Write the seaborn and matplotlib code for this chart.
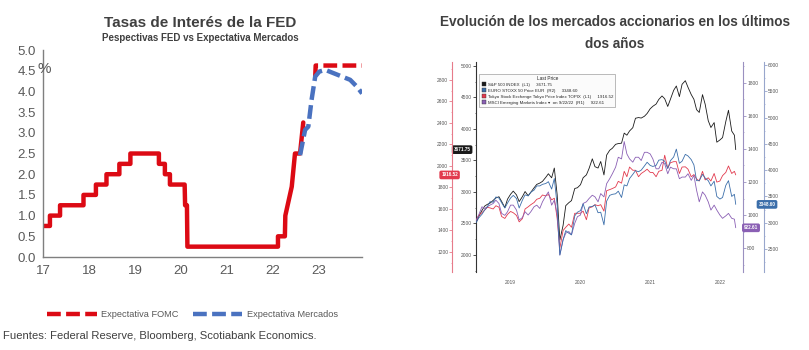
import pandas as pd
import matplotlib.pyplot as plt
import seaborn as sns
from matplotlib.lines import Line2D
from matplotlib.patches import Patch
from matplotlib.ticker import AutoMinorLocator, MultipleLocator

sns.set_style('white')
plt.rcParams['font.family'] = ['Liberation Sans', 'DejaVu Sans']

# ---------------- left panel: Fed funds rate (x = year 20xx) ----------------
fed_x = [17.0, 17.15, 17.15, 17.37, 17.37, 17.88, 17.88, 18.15, 18.15, 18.38, 18.38,
         18.66, 18.66, 18.9, 18.9, 19.52, 19.52, 19.65, 19.65, 19.76, 19.76, 20.08,
         20.09, 20.13, 20.14, 22.11, 22.11, 22.26, 22.27, 22.41, 22.48, 22.59, 22.66]
fed_y = [0.75, 0.75, 1.0, 1.0, 1.25, 1.25, 1.5, 1.5, 1.75, 1.75, 2.0,
         2.0, 2.25, 2.25, 2.5, 2.5, 2.25, 2.25, 2.0, 2.0, 1.75, 1.75,
         1.25, 1.25, 0.25, 0.25, 0.5, 0.5, 1.0, 1.7, 2.5, 2.5, 3.25]
fomc_x = [22.92, 22.93, 23.94]
fomc_y = [4.35, 4.625, 4.625]
mkt_x = [22.59, 22.70, 22.77, 22.84, 22.92, 23.01, 23.14, 23.32, 23.50, 23.68, 23.83, 23.94]
mkt_y = [2.46, 3.07, 3.15, 3.79, 4.36, 4.48, 4.52, 4.44, 4.36, 4.28, 4.11, 3.95]

# ---------------- right panel: equity indices, semi-monthly ----------------
dates = list(pd.date_range('2019-01-01', '2022-09-15', freq='SMS')) + [pd.Timestamp('2022-09-22')]
spx = [2507, 2610, 2706, 2775, 2803, 2822, 2867, 2905, 2924, 2850, 2752, 2886,
       2964, 3014, 2953, 2847, 2926, 3007, 2940, 2995, 3066, 3120, 3141, 3168,
       3231, 3289, 3225, 3380, 2954, 2237, 2470, 2783, 2830, 2863, 3055, 3067,
       3115, 3226, 3271, 3373, 3526, 3401, 3380, 3484, 3270, 3585, 3662, 3694,
       3756, 3768, 3774, 3934, 3901, 3968, 4020, 4170, 4181, 4173, 4202, 4246,
       4320, 4360, 4395, 4468, 4524, 4480, 4357, 4471, 4613, 4682, 4513, 4709,
       4766, 4662, 4546, 4471, 4306, 4262, 4545, 4392, 4132, 4023, 4101, 3790,
       3825, 3863, 4118, 4297, 3967, 3901, 3672]
sx5e = [3001, 3090, 3160, 3240, 3300, 3400, 3390, 3490, 3470, 3380, 3280, 3375,
        3470, 3520, 3460, 3280, 3430, 3530, 3510, 3580, 3620, 3700, 3700, 3730,
        3745, 3780, 3640, 3840, 3330, 2385, 2680, 2850, 2800, 2770, 3130, 3200,
        3230, 3360, 3170, 3300, 3310, 3340, 3190, 3200, 2960, 3410, 3520, 3540,
        3550, 3600, 3480, 3720, 3700, 3840, 3920, 3990, 3970, 4000, 4080, 4150,
        4090, 4070, 4090, 4190, 4200, 4170, 4030, 4180, 4250, 4400, 4130, 4170,
        4300, 4270, 4200, 4100, 3800, 3800, 3920, 3850, 3800, 3700, 3790, 3500,
        3450, 3480, 3710, 3800, 3500, 3540, 3349]
topix = [1494, 1540, 1565, 1590, 1615, 1610, 1600, 1630, 1617, 1530, 1512, 1550,
         1577, 1565, 1540, 1480, 1510, 1600, 1620, 1640, 1660, 1690, 1700, 1730,
         1721, 1735, 1685, 1700, 1510, 1236, 1400, 1430, 1460, 1430, 1560, 1560,
         1560, 1580, 1500, 1610, 1620, 1640, 1630, 1640, 1580, 1770, 1780, 1790,
         1805, 1857, 1840, 1950, 1900, 1990, 1960, 1960, 1900, 1930, 1950, 1970,
         1940, 1940, 1900, 1950, 1960, 2100, 1980, 2030, 2040, 2040, 1930, 1990,
         1992, 1970, 1900, 1920, 1880, 1860, 1950, 1870, 1890, 1860, 1930, 1850,
         1860, 1910, 1940, 2000, 1930, 1950, 1917]
msci_em = [966, 1000, 1050, 1040, 1050, 1060, 1070, 1090, 1070, 1010, 998, 1020,
           1060, 1060, 1030, 970, 985, 1020, 1000, 1020, 1050, 1060, 1040, 1080,
           1115, 1140, 1060, 1090, 1005, 758, 850, 890, 900, 880, 950, 990,
           1000, 1070, 1080, 1100, 1120, 1110, 1080, 1130, 1110, 1190, 1220, 1250,
           1290, 1350, 1340, 1445, 1370, 1340, 1320, 1350, 1350, 1330, 1380, 1380,
           1370, 1340, 1280, 1280, 1320, 1310, 1250, 1290, 1280, 1280, 1220, 1230,
           1230, 1250, 1210, 1240, 1150, 1080, 1140, 1120, 1080, 1030, 1060, 1030,
           1000, 980, 995, 1010, 980, 975, 923]
legend_names = ['S&P 500 INDEX  (L1)', 'EURO STOXX 50 Price EUR  (R2)',
                'Tokyo Stock Exchange Tokyo Price Index TOPIX  (L1)',
                'MSCI Emerging Markets Index \u25be  on 9/22/22  (R1)']
last_prices = ['3671.75', '3348.60', '1916.52', '922.61']
year_labels = ['2019', '2020', '2021', '2022']

RED = '#dc0a14'
BLUE = '#4a72c0'
GREY = '#595959'
c_spx, c_sx5e, c_topix, c_em = '#1a1a1a', '#3b6eaa', '#e23a4e', '#8a5fb4'

fig = plt.figure(figsize=(8.09, 3.5), dpi=100)

# ---------- left chart ----------
ax = fig.add_axes([0.0532, 0.2657, 0.3944, 0.5914])
dash = (0, (3.1, 1.2))
sns.lineplot(x=fed_x, y=fed_y, ax=ax, color=RED, linewidth=3.2, sort=False, estimator=None)
sns.lineplot(x=fomc_x, y=fomc_y, ax=ax, color=RED, linewidth=3.2, sort=False,
             estimator=None, linestyle=dash)
sns.lineplot(x=mkt_x, y=mkt_y, ax=ax, color=BLUE, linewidth=3.2, sort=False,
             estimator=None, linestyle=dash)
ax.set_xlim(17, 23.94)
ax.set_ylim(0, 5)
ax.set_xticks(range(17, 24))
ax.set_xticklabels([str(v) for v in range(17, 24)])
ax.yaxis.set_major_locator(MultipleLocator(0.5))
ax.yaxis.set_major_formatter(plt.FormatStrFormatter('%.1f'))
for s in ['top', 'right']:
    ax.spines[s].set_visible(False)
for s in ['left', 'bottom']:
    ax.spines[s].set_color('#7f7f7f')
    ax.spines[s].set_linewidth(1.0)
ax.tick_params(axis='both', colors=GREY, labelsize=9.5, length=3, width=1, direction='out',
               labelcolor=GREY)
ax.tick_params(axis='x', pad=3)
ax.tick_params(axis='y', pad=2)
ax.set_xlabel('')
ax.set_ylabel('')
ax.text(17.02, 4.55, '%', fontsize=11, color=GREY, ha='center', va='center')

fig.text(0.247, 0.934, 'Tasas de Interés de la FED', ha='center', va='center',
         fontsize=11, fontweight='bold', color='#404040')
fig.text(0.247, 0.891, 'Pespectivas FED vs Expectativa Mercados', ha='center', va='center',
         fontsize=7, fontweight='bold', color='#404040')

handles = [Line2D([0], [0], color=RED, lw=3.2, linestyle=dash),
           Line2D([0], [0], color=BLUE, lw=3.2, linestyle=dash)]
fig.legend(handles, ['Expectativa FOMC', 'Expectativa Mercados'], loc='center',
           bbox_to_anchor=(0.238, 0.101), ncol=2, frameon=False, fontsize=6.7,
           handlelength=5.3, handletextpad=0.45, columnspacing=1.6, labelcolor=GREY)
fig.text(0.004, 0.04, 'Fuentes: Federal Reserve, Bloomberg, Scotiabank Economics.',
         ha='left', va='center', fontsize=8.1, color='#404040')

# ---------- right chart ----------
fig.text(0.760, 0.905, 'Evolución de los mercados accionarios en los últimos\ndos años',
         ha='center', va='center', fontsize=9.8, fontweight='bold', color='#404040',
         linespacing=1.7)

bx = fig.add_axes([0.5884, 0.2229, 0.33, 0.60])
ax_red = bx.twinx()
ax_em = bx.twinx()
ax_eu = bx.twinx()

sns.lineplot(x=dates, y=spx, ax=bx, color=c_spx, linewidth=0.6, estimator=None)
sns.lineplot(x=dates, y=topix, ax=ax_red, color=c_topix, linewidth=0.6, estimator=None)
sns.lineplot(x=dates, y=msci_em, ax=ax_em, color=c_em, linewidth=0.6, estimator=None)
sns.lineplot(x=dates, y=sx5e, ax=ax_eu, color=c_sx5e, linewidth=0.6, estimator=None)

bx.set_xlim(pd.Timestamp('2019-01-01'), pd.Timestamp('2022-10-30'))
bx.set_ylim(1730, 5063)
ax_red.set_ylim(1014, 2967)
ax_em.set_ylim(655, 1927)
ax_eu.set_ylim(2063, 6057)

bx.set_yticks(range(2000, 5001, 500))
ax_red.set_yticks(range(1200, 2801, 200))
ax_em.set_yticks(range(800, 1801, 200))
ax_eu.set_yticks(range(2500, 6001, 500))

bx.set_xticks([pd.Timestamp(f'{y}-07-01') for y in year_labels])
bx.set_xticklabels(year_labels)
bx.tick_params(axis='x', length=0, pad=6, labelsize=3.5, labelcolor='#555555')

axis_specs = [(bx, 'left', 0, '#333333'), (ax_red, 'left', 17, '#e77b8a'),
              (ax_em, 'right', 0, '#9a90c0'), (ax_eu, 'right', 15, '#98a6cc')]
for a, side, off, col in axis_specs:
    for s in ['top', 'bottom', 'left', 'right']:
        a.spines[s].set_visible(False)
    a.spines[side].set_visible(True)
    a.spines[side].set_position(('outward', off))
    a.spines[side].set_color(col)
    a.spines[side].set_linewidth(0.8)
    a.yaxis.set_ticks_position(side)
    a.yaxis.set_minor_locator(AutoMinorLocator(2))
    a.tick_params(axis='y', which='major', length=2, width=0.6, color=col,
                  labelsize=3.5, labelcolor='#555555', pad=1)
    a.tick_params(axis='y', which='minor', length=1, width=0.5, color=col)
    a.set_ylabel('')
    a.grid(False)
bx.set_xlabel('')

# last price tags
tag_specs = [(bx, -0.052, 3671.75, last_prices[0], c_spx),
             (ax_red, -0.099, 1916.52, last_prices[2], c_topix),
             (ax_em, 1.03, 922.61, last_prices[3], c_em),
             (ax_eu, 1.09, 3348.60, last_prices[1], c_sx5e)]
for a, xf, yv, txt, col in tag_specs:
    a.text(xf, yv, txt, transform=a.get_yaxis_transform(), ha='center', va='center',
           fontsize=3.3, color='white', fontweight='bold', clip_on=False,
           bbox=dict(boxstyle='round,pad=0.25', fc=col, ec=col), zorder=10)

leg_handles = [Patch(facecolor=c, edgecolor='#333333', linewidth=0.3)
               for c in [c_spx, c_sx5e, c_topix, c_em]]
leg_labels = [f'{n}     {p}' for n, p in zip(legend_names, last_prices)]
leg = ax_eu.legend(leg_handles, leg_labels, title='Last Price', loc='upper left',
                   bbox_to_anchor=(0.004, 0.955), fontsize=3.2, title_fontsize=3.4,
                   frameon=True, fancybox=False, edgecolor='#888888',
                   handlelength=0.9, handleheight=0.9, handletextpad=0.5,
                   labelspacing=0.35, borderpad=0.5)
leg.get_frame().set_linewidth(0.5)
leg.get_frame().set_facecolor('#fafafa')

fig.savefig('out.png', dpi=100)
